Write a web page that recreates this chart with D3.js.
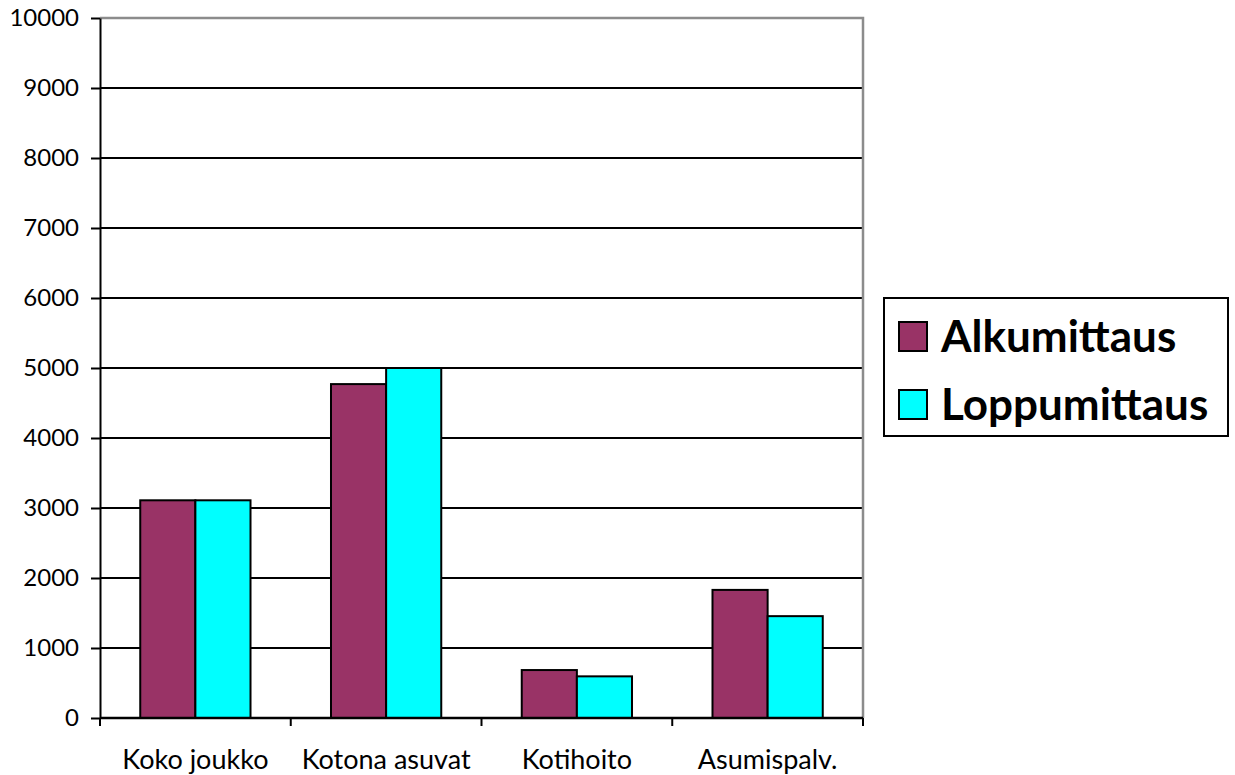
<!DOCTYPE html>
<html>
<head>
<meta charset="utf-8">
<script src="https://cdn.jsdelivr.net/npm/d3@7"></script>
<style>
  html, body { margin: 0; padding: 0; background: #fff; }
  svg { display: block; font-family: Lato, "Open Sans", "Liberation Sans", sans-serif; }
</style>
</head>
<body>
<svg id="chart" width="1235" height="775"></svg>
<script>
// Groups and the two measurement series
const categories = ["Koko joukko", "Kotona asuvat", "Kotihoito", "Asumispalv."];
const seriesNames = ["Alkumittaus", "Loppumittaus"];
const alkumittaus = [3110, 4770, 685, 1830];
const loppumittaus = [3110, 5000, 595, 1455];
const yTicks = [0, 1000, 2000, 3000, 4000, 5000, 6000, 7000, 8000, 9000, 10000];
const colors = ["#993366", "#00FFFF"];

const svg = d3.select("#chart");
const plot = { left: 100, right: 863, top: 18, bottom: 718 };

const x = d3.scaleBand().domain(categories).range([plot.left, plot.right]).paddingInner(0).paddingOuter(0);
const inner = d3.scaleBand().domain(seriesNames).range([0, x.bandwidth()]).paddingInner(0).paddingOuter(0.73);
const y = d3.scaleLinear().domain([0, 10000]).range([plot.bottom, plot.top]);

// Gridlines
svg.append("g")
  .selectAll("line")
  .data(yTicks.filter(d => d > 0 && d < 10000))
  .join("line")
  .attr("x1", plot.left).attr("x2", plot.right)
  .attr("y1", d => y(d)).attr("y2", d => y(d))
  .attr("stroke", "#000").attr("stroke-width", 2);

// Plot frame (top and right in grey)
svg.append("path")
  .attr("d", `M${plot.left},${plot.top}H${plot.right}V${plot.bottom}`)
  .attr("fill", "none").attr("stroke", "#8c8c8c").attr("stroke-width", 2.5);

// Bars
const rows = categories.map((c, i) => ({ cat: c, values: [alkumittaus[i], loppumittaus[i]] }));
const groups = svg.append("g").selectAll("g")
  .data(rows).join("g")
  .attr("transform", d => `translate(${x(d.cat)},0)`);
groups.selectAll("rect")
  .data(d => d.values.map((v, j) => ({ name: seriesNames[j], v, j })))
  .join("rect")
  .attr("x", d => inner(d.name))
  .attr("width", inner.bandwidth())
  .attr("y", d => y(d.v))
  .attr("height", d => y(0) - y(d.v))
  .attr("fill", d => colors[d.j])
  .attr("stroke", "#000").attr("stroke-width", 2);

// Y axis
const yAxis = d3.axisLeft(y).tickValues(yTicks).tickFormat(d3.format("d"))
  .tickSize(9).tickSizeOuter(0).tickPadding(12);
const gy = svg.append("g").attr("transform", `translate(${plot.left},0)`).call(yAxis);
gy.attr("font-family", null).attr("font-size", null);
gy.select(".domain").attr("stroke", "#000").attr("stroke-width", 2);
gy.selectAll(".tick line").attr("stroke", "#000").attr("stroke-width", 2);
gy.selectAll(".tick text").attr("font-size", 24).attr("fill", "#000");

// X axis with ticks at category boundaries
svg.append("line")
  .attr("x1", plot.left).attr("x2", plot.right)
  .attr("y1", plot.bottom).attr("y2", plot.bottom)
  .attr("stroke", "#000").attr("stroke-width", 2.5);
const bounds = categories.map(c => x(c)).concat([x(categories[categories.length - 1]) + x.bandwidth()]);
svg.append("g").selectAll("line")
  .data(bounds).join("line")
  .attr("x1", d => d).attr("x2", d => d)
  .attr("y1", plot.bottom).attr("y2", plot.bottom + 8)
  .attr("stroke", "#000").attr("stroke-width", 2);
svg.append("g").selectAll("text")
  .data(categories).join("text")
  .attr("x", d => x(d) + x.bandwidth() / 2)
  .attr("y", 769)
  .attr("text-anchor", "middle")
  .attr("font-size", 27)
  .attr("fill", "#000")
  .text(d => d);

// Legend
const legend = svg.append("g");
legend.append("rect")
  .attr("x", 884).attr("y", 298).attr("width", 344).attr("height", 138)
  .attr("fill", "#fff").attr("stroke", "#000").attr("stroke-width", 2);
const items = legend.selectAll("g.item")
  .data(seriesNames).join("g").attr("class", "item")
  .attr("transform", (d, i) => `translate(0,${i * 68})`);
items.append("rect")
  .attr("x", 899).attr("y", 322).attr("width", 28).attr("height", 29)
  .attr("fill", (d, i) => colors[i]).attr("stroke", "#000").attr("stroke-width", 2);
items.append("text")
  .attr("x", 941).attr("y", 352)
  .attr("font-size", 44).attr("font-weight", "bold").attr("fill", "#000")
  .text(d => d);
</script>
</body>
</html>
